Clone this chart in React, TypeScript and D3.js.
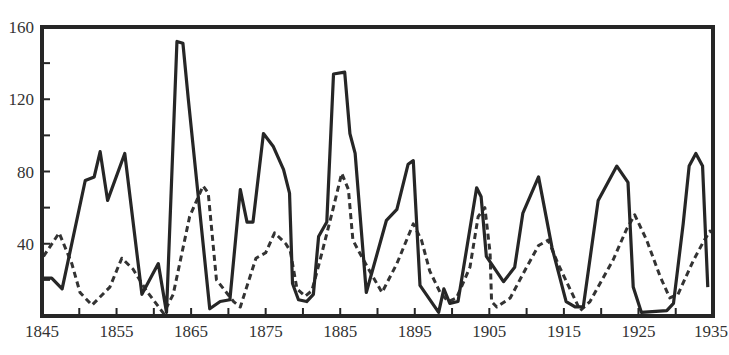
import React, {useEffect, useRef} from 'react';
import * as d3 from 'd3';

// hare (solid) - vertices, years can be fractional
const hareYears: number[] = [1845, 1846.3, 1847.7, 1850.8, 1852.0, 1852.8, 1853.8, 1856.1, 1858.4, 1860.6, 1861.7, 1863.1, 1863.9, 1864.6, 1867.5, 1868.9, 1870.2, 1871.6, 1872.5, 1873.3, 1874.7, 1876.0, 1877.4, 1878.2, 1878.6, 1879.4, 1880.5, 1881.4, 1882.1, 1883.2, 1884.1, 1885.6, 1886.3, 1887.0, 1888.5, 1891.2, 1892.6, 1894.1, 1894.8, 1895.7, 1898.2, 1898.9, 1899.7, 1900.8, 1903.3, 1903.9, 1904.6, 1906.9, 1908.4, 1909.5, 1911.6, 1913.4, 1915.3, 1916.5, 1917.6, 1919.6, 1922.1, 1923.6, 1924.3, 1925.4, 1928.8, 1929.7, 1931.0, 1931.8, 1932.7, 1933.6, 1934.3];
const hareValues: number[] = [21, 21, 15, 75, 77, 91, 64, 90, 12, 29, 2, 152, 151, 121, 4, 8, 9, 70, 52, 52, 101, 94, 81, 68, 18, 9, 8, 12, 44, 52, 134, 135, 101, 90, 13, 53, 59, 84, 86, 17, 2, 15, 7, 8, 71, 66, 33, 19, 27, 57, 77, 38, 8, 5, 5, 64, 83, 74, 16, 2, 3, 7, 51, 83, 90, 83, 16];

// lynx (dashed)
const lynxYears: number[] = [1845.2, 1847.3, 1849.0, 1850.1, 1851.7, 1854.1, 1855.7, 1857.2, 1859.0, 1861.3, 1862.6, 1864.8, 1866.6, 1867.3, 1868.4, 1870.7, 1871.6, 1873.7, 1875.0, 1876.2, 1877.7, 1878.3, 1879.2, 1880.3, 1881.2, 1882.3, 1883.9, 1885.2, 1886.1, 1886.7, 1887.6, 1888.8, 1890.6, 1892.6, 1894.8, 1895.9, 1897.0, 1898.4, 1899.5, 1900.6, 1902.4, 1903.5, 1904.4, 1905.1, 1905.3, 1906.0, 1907.8, 1910.0, 1911.6, 1912.9, 1914.2, 1917.2, 1918.5, 1921.6, 1923.4, 1924.5, 1926.1, 1927.9, 1929.2, 1930.3, 1932.4, 1933.7, 1934.6, 1935.0];
const lynxValues: number[] = [33, 46, 29, 13, 6, 16, 32, 26, 14, 1.5, 12, 55, 72, 68, 20, 8, 5, 32, 35, 46, 40, 36, 15, 11, 14, 31, 57, 79, 70, 42, 35, 26, 13, 29, 51, 42, 25, 13, 8, 10, 27, 55, 60, 35, 8, 5, 10, 27, 39, 42, 29, 3, 8, 31, 48, 56, 42, 22, 10, 12, 31, 41, 47, 46];

const xTickLabels: number[] = [1845, 1855, 1865, 1875, 1885, 1895, 1905, 1915, 1925, 1935];
const yTickLabels: number[] = [40, 80, 120, 160];

const App = () => {
  const ref = useRef<SVGSVGElement>(null);

  useEffect(() => {
    drawChart();
    return () => {
      d3.select(ref.current).selectAll('*').remove();
    };
  }, []);

  const drawChart = () => {
    const svg = d3.select(ref.current);
    const ink = '#262626';
    const font = "'Liberation Serif', 'Times New Roman', serif";

    // plot box
    const left = 42, right = 713, top = 27, bottom = 316;

    const x = d3.scaleLinear().domain([1845, 1935]).range([left, right]);
    const y = d3.scaleLinear().domain([0, 160]).range([bottom, top]);

    const line = d3.line<[number, number]>()
      .x(d => x(d[0]))
      .y(d => y(d[1]))
      .curve(d3.curveLinear);

    const hare = hareYears.map((yr, i) => [yr, hareValues[i]] as [number, number]);
    const lynx = lynxYears.map((yr, i) => [yr, lynxValues[i]] as [number, number]);

    const g = svg.append('g');

    // the curves first, frame goes on top of them
    g.append('path')
      .attr('d', line(lynx))
      .attr('fill', 'none')
      .attr('stroke', '#333')
      .attr('stroke-width', 3)
      .attr('stroke-dasharray', '6 4')
      .attr('stroke-linejoin', 'round');

    g.append('path')
      .attr('d', line(hare))
      .attr('fill', 'none')
      .attr('stroke', ink)
      .attr('stroke-width', 3.2)
      .attr('stroke-linejoin', 'round');

    // inward ticks
    g.selectAll('.ytick')
      .data(d3.range(20, 160, 20))
      .enter().append('line')
      .attr('x1', left).attr('x2', left + 8)
      .attr('y1', d => y(d)).attr('y2', d => y(d))
      .attr('stroke', ink).attr('stroke-width', 2);

    g.selectAll('.xtick')
      .data(d3.range(1850, 1935, 5))
      .enter().append('line')
      .attr('x1', d => x(d)).attr('x2', d => x(d))
      .attr('y1', bottom).attr('y2', bottom - 8)
      .attr('stroke', ink).attr('stroke-width', 2);

    // frame
    g.append('rect')
      .attr('x', left).attr('y', top)
      .attr('width', right - left).attr('height', bottom - top)
      .attr('fill', 'none')
      .attr('stroke', ink)
      .attr('stroke-width', 4);

    // labels
    g.selectAll('.ylab')
      .data(yTickLabels)
      .enter().append('text')
      .attr('x', 34)
      .attr('y', d => y(d) + 6)
      .attr('text-anchor', 'end')
      .attr('font-family', font)
      .attr('font-size', '17px')
      .attr('fill', '#333')
      .text(d => d);

    // last label sits against the right edge of the picture, nudge it in a bit
    g.selectAll('.xlab')
      .data(xTickLabels)
      .enter().append('text')
      .attr('x', d => Math.min(x(d), 711))
      .attr('y', 337)
      .attr('text-anchor', 'middle')
      .attr('font-family', font)
      .attr('font-size', '17px')
      .attr('fill', '#333')
      .text(d => d);
  };

  return (
    <svg ref={ref} width={729} height={355}
      style={{position: 'absolute', left: 0, top: 0, background: 'white'}} />
  );
};

export default App;
